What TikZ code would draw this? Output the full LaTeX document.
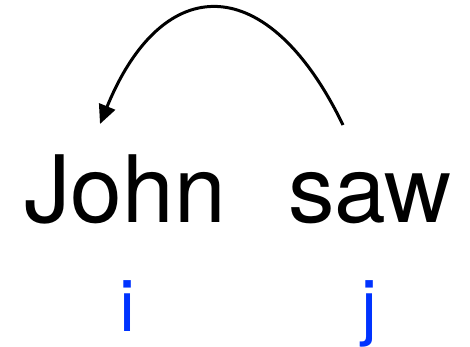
\documentclass[tikz,border=0pt]{standalone}
\usepackage{fontspec}
\setmainfont{TeX Gyre Heros}
\usetikzlibrary{arrows.meta}
\definecolor{idxblue}{HTML}{0033FF}
\tikzset{
  word/.style={anchor=base, inner sep=0pt, font=\fontsize{93}{100}\selectfont},
  idx/.style={anchor=base, inner sep=0pt, text=idxblue, font=\fontsize{72}{80}\selectfont},
  dep/.style={line width=3pt, -{Triangle[length=19pt, width=17pt]}}
}
\begin{document}
\begin{tikzpicture}[x=1pt, y=-1pt]
\useasboundingbox (0,0) rectangle (470,347);
\node[word] (john) at (125,222) {John};
\node[word] (saw) at (370,222) {saw};
\node[idx] (i) at (127,331) {i};
\node[idx] (j) at (369,331) {j};
\coordinate (s) at (343,125);
\coordinate (e) at (100,124);
\draw[dep] (s) .. controls (268,-30) and (163,-30) .. (e);
\end{tikzpicture}
\end{document}
